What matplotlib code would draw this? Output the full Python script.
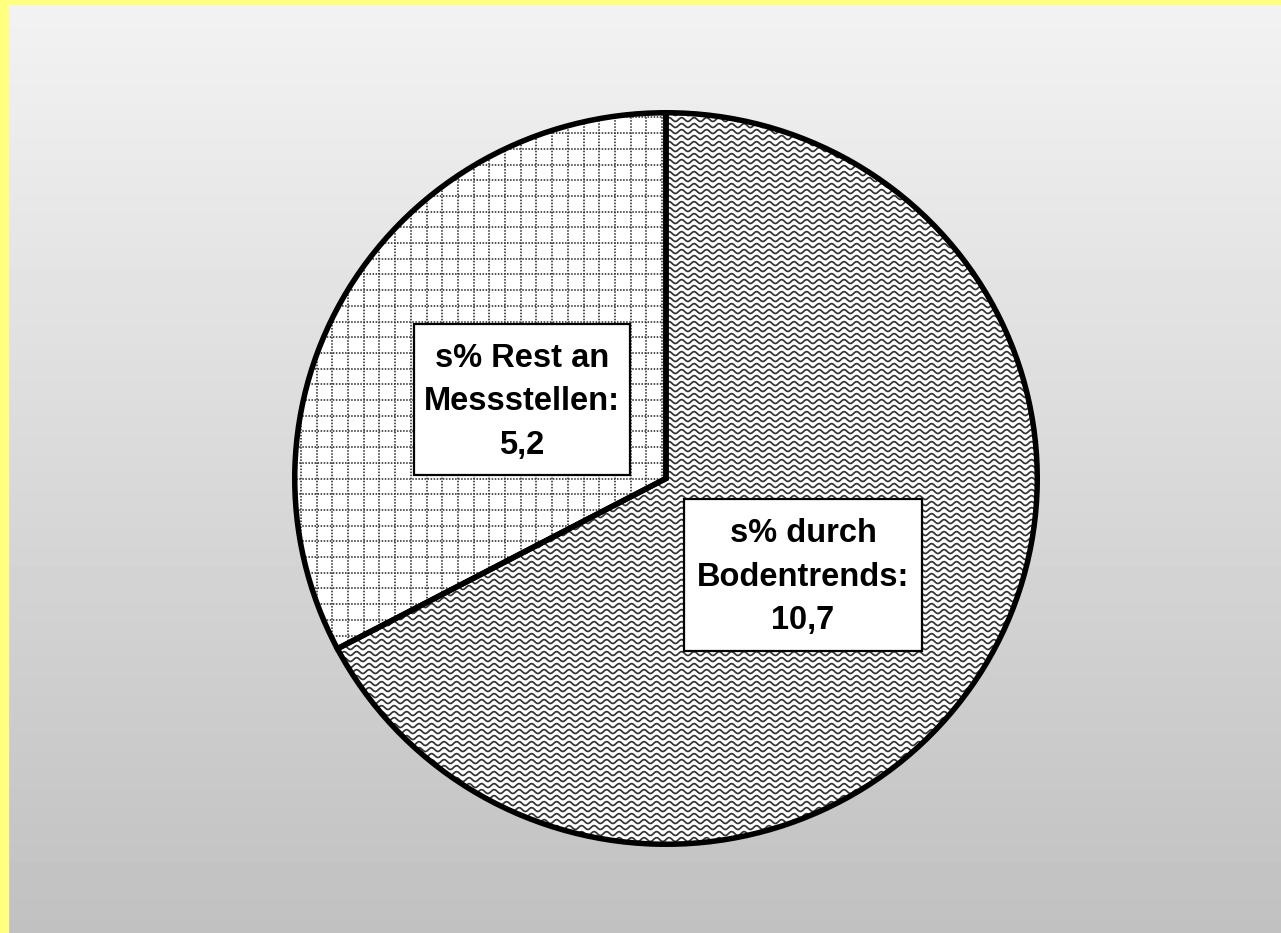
"""
Kreisdiagramm: Aufteilung der Standardabweichung (s%)
"""

import matplotlib
matplotlib.use('Agg')
import matplotlib.pyplot as plt
from matplotlib.patches import Wedge, Rectangle
from matplotlib.collections import LineCollection
import numpy as np

plt.rcParams['font.family'] = ['Liberation Sans', 'DejaVu Sans']
plt.rcParams['lines.scale_dashes'] = False

# Daten
labels = ['s% durch\nBodentrends:', 's% Rest an\nMessstellen:']
values = [10.7, 5.2]

W, H = 1281, 933
DPI = 100


def fmt(v):
    return f'{v:.1f}'.replace('.', ',')


def wave_hatch(ax, wedge, sx, sy):
    """Wellenlinien als Schraffur, auf das Segment beschnitten"""
    xs = np.linspace(-1.02, 1.02, 3000)
    segs = []
    for y0 in np.arange(-1.02, 1.02, 6.0 / sy):
        ys = y0 + (1.9 / sy) * np.sin(2 * np.pi * xs * sx / 12.5)
        segs.append(np.column_stack([xs, ys]))
    lc = LineCollection(segs, colors='#333333', linewidths=1.25, zorder=2)
    ax.add_collection(lc)
    lc.set_clip_path(wedge)


def grid_hatch(ax, wedge, sx, sy):
    """Gepunktetes Gitter als Schraffur"""
    step = 15.7
    segs = []
    for k in range(-30, 30):
        x = (-4 + k * step) / sx
        segs.append([(x, -1.02), (x, 1.02)])
        y = k * step / sy
        segs.append([(-1.02, y), (1.02, y)])
    lc = LineCollection(segs, colors='#3c3c3c', linewidths=1.25,
                        linestyles=[(0, (1.1, 1.1))], zorder=2)
    ax.add_collection(lc)
    lc.set_clip_path(wedge)


fig = plt.figure(figsize=(W / DPI, H / DPI), dpi=DPI)

# Hintergrund mit Verlauf und gelbem Rand
bg = fig.add_axes([0, 0, 1, 1])
bg.axis('off')
grad = np.linspace(0.95, 0.755, 256).reshape(-1, 1)
bg.imshow(grad, cmap='gray', vmin=0, vmax=1, aspect='auto',
          extent=[8, W, H, 4], interpolation='bilinear')
bg.add_patch(Rectangle((0, 0), 8, H, color='#ffff80'))
bg.add_patch(Rectangle((0, 0), W, 4, color='#ffff80'))
bg.set_xlim(0, W)
bg.set_ylim(H, 0)

# Kreis
left, right, top, bottom = 292, 1040, 110, 847
lw_px = 5.5
ax = fig.add_axes([left / W, (H - bottom) / H, (right - left) / W, (bottom - top) / H])
wedges, _ = ax.pie(values, startangle=90, counterclock=False, radius=1,
                   wedgeprops=dict(facecolor='white', edgecolor='none'))
ax.set_aspect('auto')
sx = (right - left - lw_px) / 2
sy = (bottom - top - lw_px) / 2
ax.set_xlim(-(1 + lw_px / 2 / sx), 1 + lw_px / 2 / sx)
ax.set_ylim(-(1 + lw_px / 2 / sy), 1 + lw_px / 2 / sy)
ax.axis('off')

wave_hatch(ax, wedges[0], sx, sy)
grid_hatch(ax, wedges[1], sx, sy)

for w in wedges:
    ax.add_patch(Wedge((0, 0), 1, w.theta1, w.theta2, facecolor='none',
                       edgecolor='black', linewidth=lw_px * 0.72,
                       joinstyle='miter', zorder=3, clip_on=False))

# Beschriftungen mit weißem Kasten (Kastengröße in Pixeln)
label_xy = [(0.369, -0.263), (-0.388, 0.216)]
box_wh = [(238, 152), (216, 151)]
to_fig = fig.transFigure.inverted()
for (x, y), (bw, bh), lab, v in zip(label_xy, box_wh, labels, values):
    cx, cy = ax.transData.transform((x, y))
    x0, y0 = to_fig.transform((cx - bw / 2, cy - bh / 2))
    fig.patches.append(Rectangle((x0, y0), bw / W, bh / H,
                                 transform=fig.transFigure, facecolor='white',
                                 edgecolor='black', linewidth=1.6, zorder=4))
    tx, ty = to_fig.transform((cx, cy - 2.5))
    fig.text(tx, ty, f'{lab}\n{fmt(v)}', ha='center', va='center',
             fontsize=23.5, fontweight='bold', linespacing=1.53, zorder=6)

fig.savefig('out.png', dpi=DPI)
plt.close()
